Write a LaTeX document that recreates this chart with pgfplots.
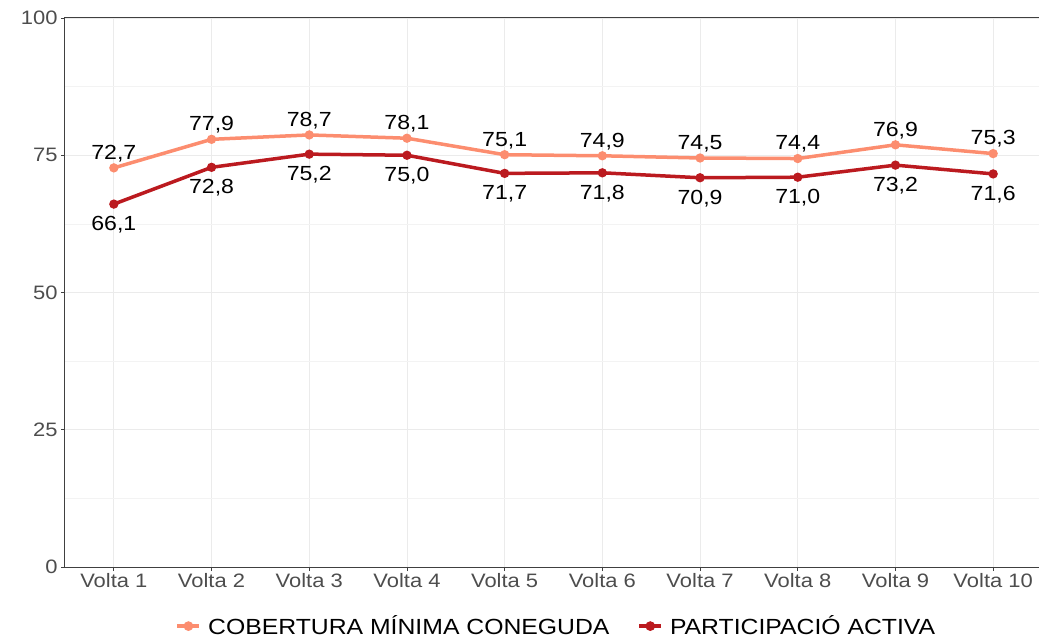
\documentclass[border=0pt]{standalone}
\usepackage{pgfplots}
\pgfplotsset{compat=1.18}
\usepackage{fontspec}
\setmainfont[FakeStretch=1.13]{Liberation Sans}
\definecolor{lightred}{HTML}{FC8D6F}
\definecolor{darkred}{HTML}{BB1A1F}
\definecolor{ticklab}{HTML}{4D4D4D}
\definecolor{gridc}{HTML}{EBEBEB}
\definecolor{gridm}{HTML}{F3F3F3}
\begin{document}
\begin{tikzpicture}[x=1bp,y=1bp]
\begin{axis}[
  scale only axis,
  width=977bp, height=549bp,
  xmin=0.5, xmax=10.5, ymin=0, ymax=100,
  xtick={1,...,10},
  xticklabels={Volta 1,Volta 2,Volta 3,Volta 4,Volta 5,Volta 6,Volta 7,Volta 8,Volta 9,Volta 10},
  ytick={0,25,50,75,100},
  minor ytick={12.5,37.5,62.5,87.5},
  grid=both,
  major grid style={gridc, line width=0.8bp},
  minor grid style={gridm, line width=0.6bp},
  axis line style={draw=black!75, line width=1bp},
  tick style={black!75, line width=0.8bp},
  major tick length=4bp,
  tick align=outside,
  xtick pos=bottom, ytick pos=left,
  minor tick length=0pt,
  ticklabel style={font=\fontsize{19.5}{21}\selectfont, text=ticklab},
  xticklabel style={yshift=1bp},
  yticklabel={\pgfmathprintnumber[fixed,precision=0]{\tick}},
  /pgf/number format/assume math mode=true,
  clip=false,
  legend style={at={(0.503,-0.085)}, anchor=north, draw=none, fill=none, legend columns=2,
    font=\fontsize{22}{24}\selectfont, inner sep=0pt,
    /tikz/every even column/.append style={column sep=26bp}},
  legend image code/.code={
    \draw[#1, line width=3.5bp] (0bp,0bp) -- (22bp,0bp);
    \fill[#1] (11bp,0bp) circle (3bp);
    \path (27bp,0bp);
  },
  nodes near coords={\pgfmathprintnumber[use comma,fixed,fixed zerofill,precision=1]{\pgfplotspointmeta}},
  every node near coord/.append style={font=\fontsize{20.5}{22}\selectfont, text=black},
]
\addplot[lightred, line width=3.5bp, mark=*, mark size=2.8bp,
  every node near coord/.append style={anchor=south, yshift=1bp}]
  coordinates {(1,72.7)(2,77.9)(3,78.7)(4,78.1)(5,75.1)(6,74.9)(7,74.5)(8,74.4)(9,76.9)(10,75.3)};
\addlegendentry{COBERTURA MÍNIMA CONEGUDA}
\addplot[darkred, line width=3.5bp, mark=*, mark size=2.8bp,
  every node near coord/.append style={anchor=north, yshift=-7bp}]
  coordinates {(1,66.1)(2,72.8)(3,75.2)(4,75.0)(5,71.7)(6,71.8)(7,70.9)(8,71.0)(9,73.2)(10,71.6)};
\addlegendentry{PARTICIPACIÓ ACTIVA}
\coordinate (SW) at (rel axis cs:0,0);
\coordinate (NE) at (rel axis cs:1,1);
\end{axis}
\pgfresetboundingbox
\path[use as bounding box] ([xshift=-65bp,yshift=-72bp]SW) rectangle ([xshift=-3bp,yshift=18bp]NE);
\end{tikzpicture}
\end{document}
